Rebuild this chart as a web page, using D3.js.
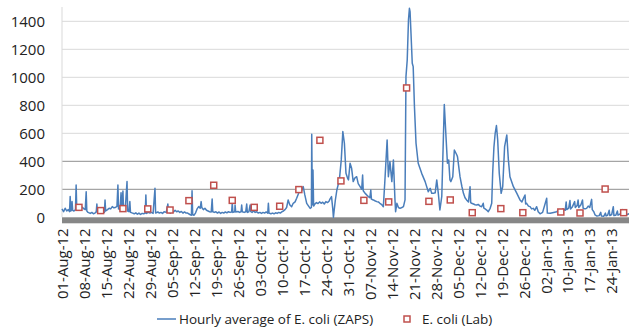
<!DOCTYPE html>
<html><head><meta charset="utf-8">
<script src="https://cdn.jsdelivr.net/npm/d3@7"></script>
<style>body{margin:0;background:#fff}svg{display:block}text{font-family:'Open Sans',sans-serif;fill:#222}</style>
</head><body><svg id="c" width="629" height="329"></svg>
<script>
const tickLabels = ["01-Aug-12","08-Aug-12","15-Aug-12","22-Aug-12","29-Aug-12","05-Sep-12","12-Sep-12","19-Sep-12","26-Sep-12","03-Oct-12","10-Oct-12","17-Oct-12","24-Oct-12","31-Oct-12","07-Nov-12","14-Nov-12","21-Nov-12","28-Nov-12","05-Dec-12","12-Dec-12","19-Dec-12","26-Dec-12","02-Jan-13","10-Jan-13","17-Jan-13","24-Jan-13"];
const yTicks = [0,200,400,600,800,1000,1200,1400];
// [day since 01-Aug-12, E. coli]
const zapsHourly = [[0,60],[0.5,40],[1,65],[1.5,45],[2,55],[2.4,40],[2.6,148],[2.8,45],[3.0,50],[3.2,112],[3.4,50],[3.8,45],[4.3,55],[4.5,231],[4.7,55],[5,60],[5.5,70],[6,62],[6.5,72],[7,60],[7.4,55],[7.7,183],[7.9,45],[8.3,35],[9,28],[9.5,35],[10,25],[10.5,30],[10.9,40],[11.1,95],[11.3,35],[12,40],[12.5,30],[13,38],[13.5,35],[13.7,124],[13.9,45],[14.5,55],[15,65],[15.5,60],[16,76],[16.5,68],[17,70],[17.5,78],[17.8,231],[18,60],[18.5,55],[18.8,176],[19,50],[19.4,188],[19.6,50],[20.1,45],[20.7,255],[20.9,45],[21.3,40],[21.6,112],[21.8,35],[22.5,30],[23,25],[23.5,32],[24,22],[24.5,30],[25,20],[25.5,28],[26,25],[26.5,30],[26.7,160],[26.9,28],[27.5,35],[28,30],[28.5,35],[29,28],[29.6,207],[29.8,30],[30.5,38],[31,30],[31.5,35],[32,28],[32.5,40],[33.2,35],[33.7,95],[33.9,40],[34.5,30],[35,45],[35.5,38],[36,50],[36.5,40],[37,45],[37.5,35],[38,42],[38.5,30],[39,38],[39.5,30],[40,30],[40.7,20],[41.2,15],[41.4,190],[41.6,18],[42,15],[42.5,30],[43,60],[43.5,76],[44.0,65],[44.3,112],[44.5,70],[45,55],[45.5,65],[46,50],[46.5,45],[47,40],[47.5,38],[47.8,130],[48,40],[48.5,35],[49,40],
[49.5,30],[50,38],[50.5,28],[51,35],[51.5,30],[52,38],[52.5,32],[53,40],[53.5,35],[54,38],[54.2,100],[54.4,35],[55,40],[55.1,88],[55.3,38],[56,42],[56.5,35],[57,40],[57.2,88],[57.4,40],[58,35],[58.5,40],[58.8,95],[59,35],[59.5,40],[59.9,88],[60.1,40],[60.5,35],[61,45],[61.5,35],[62,40],[62.5,30],[63,35],[63.5,28],[64,35],[64.5,30],[65,38],[65.5,30],[65.7,100],[65.9,30],[66.5,25],[67,30],[67.5,25],[68,32],[68.5,28],[69,35],[69.5,30],[70,40],[70.5,45],[71,55],[71.5,70],[72,124],[72.5,90],[73.1,75],[73.6,100],[74.2,110],[74.7,136],[75.3,170],[75.8,207],[76.3,190],[76.8,219],[77.3,160],[77.9,100],[78.5,80],[79,64],[79.4,70],[79.5,594],[79.7,90],[79.9,338],[80.1,80],[80.5,95],[81,105],[81.5,98],[82,110],[82.5,100],[83,108],[83.5,95],[84,112],[84.5,105],[85,115],[85.3,130],[85.8,148],[86.2,60],[86.4,0],[86.6,40],[87.0,120],[87.5,195],[88.3,267],[88.9,410],[89.4,612],[89.9,529],[90.4,314],[90.9,280],[91.2,267],[91.7,386],[92.2,350],[92.7,255],[93.2,280],[93.8,290],[94.3,240],[94.9,219],[95.4,200],[95.7,302],[95.9,190],[96.5,171],[97,160],[97.5,148],[98,140],[98.3,195],[98.5,130],[99.1,124],[99.6,118],[100.2,112],[100.7,110],[101.2,100],[101.8,90],[102.3,76],[102.8,267],[103.5,552],[103.9,290],[104.4,398],[105,255],[105.5,410],[106,124],[106.2,40],[106.6,100],[107.1,70],[107.6,64],[108.2,70],[108.7,76],[109.2,124],[109.5,1005],[109.9,1124],[110.3,1410],[110.6,1493],[110.8,1469],[111.1,1314],[111.5,1100],[111.8,1076],[112.2,790],[112.7,529],[113.4,386],[114.5,314],[115.6,255],[116.6,183],[117.2,207],[117.7,171],[118.2,171],[118.8,175],[119.3,267],[119.8,171],[120.3,52],[120.9,150],[121.7,805],[122.3,552],[122.7,386],[123.1,410],[123.5,267],[123.8,255],[124.4,290],[124.9,481],[125.7,445],[125.9,433],[126.7,290],
[127.3,220],[127.8,171],[128.3,140],[128.8,124],[129.4,110],[129.9,219],[130.1,105],[130.4,100],[131.0,95],[131.5,90],[132.0,88],[132.5,92],[133.1,80],[133.6,75],[134.1,100],[134.3,65],[134.7,60],[135.2,52],[135.7,40],[136.3,64],[136.8,100],[137.1,314],[137.5,500],[137.9,600],[138.3,655],[138.7,552],[139.2,314],[139.8,171],[140.3,220],[140.9,505],[141.6,588],[142.1,410],[142.6,290],[143.7,219],[144.8,171],[145.8,124],[146.4,110],[146.9,135],[147.4,159],[147.6,95],[147.9,100],[148.5,80],[149.0,76],[149.5,60],[150.0,64],[150.5,50],[151.1,76],[151.6,40],[152.2,25],[153,35],[154.3,136],[154.5,30],[155.4,29],[156.5,35],[157.5,40],[158.2,52],[158.7,45],[159.5,60],[160.2,50],[160.5,110],[160.7,55],[161.3,65],[161.7,120],[161.9,60],[162.5,76],[163.2,112],[163.4,70],[164.0,85],[164.3,124],[164.5,70],[165.2,90],[165.7,124],[165.9,65],[166.5,60],[167.0,64],[167.5,80],[168.0,70],[168.6,128],[168.8,55],[169.3,40],[169.7,17],[170.3,9],[171,12],[171.5,35],[171.7,10],[172.5,8],[173,30],[173.2,10],[173.7,15],[174.2,50],[174.4,12],[175,20],[175.5,76],[175.7,12],[176.3,15],[176.8,45],[177,15],[178,28],[178.5,55],[178.7,20],[179.3,40],[179.6,15],[180.3,25],[180.5,20]];
const labDays = [5.4,12.3,19.4,27.3,34.4,40.4,48.3,54.2,61.2,69.3,75.4,82.1,88.8,96.1,104.0,109.7,116.8,123.6,130.6,139.7,146.7,158.8,164.9,172.9,178.8];
const labValues = [71,48,62,60,52,119,229,121,71,79,198,550,260,121,110,924,114,124,33,62,33,38,31,202,33];

const svg = d3.select("#c");
const x = d3.scaleLinear().domain([0,180.5]).range([62,629]);
const y = d3.scaleLinear().domain([0,1400]).range([217.3,21.3]);

// gridlines
svg.append("g").selectAll("line").data(yTicks.filter(d=>d>0)).join("line")
  .attr("x1",x(0)).attr("x2",x(180.5)).attr("y1",d=>y(d)).attr("y2",d=>y(d))
  .attr("stroke",d=>d<=400?"#8f8f8f":"#d9d9d9").attr("stroke-width",1);
// y axis line
svg.append("line").attr("x1",x(0)).attr("x2",x(0)).attr("y1",7).attr("y2",y(0)).attr("stroke","#d9d9d9");

// y labels
const ya = svg.append("g").attr("transform",`translate(${x(0)},0)`)
  .call(d3.axisLeft(y).tickValues(yTicks).tickFormat(d3.format("d")).tickSize(0).tickPadding(17));
ya.select(".domain").remove();
ya.selectAll("text").style("font-size","15px").style("font-family","'Open Sans',sans-serif").attr("fill","#222");

// x axis band
svg.append("rect").attr("x",x(0)).attr("y",y(0)).attr("width",x(180.5)-x(0)).attr("height",6).attr("fill","#878787");

// x labels
const xa = svg.append("g").attr("transform",`translate(0,${y(0)})`)
  .call(d3.axisBottom(x).tickValues(tickLabels.map((d,i)=>i*7)).tickFormat((d,i)=>tickLabels[i]).tickSize(0));
xa.select(".domain").remove();
xa.selectAll("text").attr("transform","rotate(-90)").attr("x",-11).attr("y",0).attr("dy","0.35em")
  .attr("text-anchor","end").style("font-size","15px").style("font-family","'Open Sans',sans-serif").attr("fill","#222");

// ZAPS line
svg.append("path").datum(zapsHourly)
  .attr("d",d3.line().x(d=>x(d[0])).y(d=>y(d[1])))
  .attr("fill","none").attr("stroke","#4a7ebb").attr("stroke-width",1.5).attr("stroke-linejoin","round");

// lab squares
svg.append("g").selectAll("rect").data(labDays.map((d,i)=>[d,labValues[i]])).join("rect")
  .attr("x",d=>x(d[0])-3).attr("y",d=>y(d[1])-3).attr("width",6).attr("height",6)
  .attr("fill","#fff").attr("stroke","#c0504d").attr("stroke-width",1.5);

// legend
const lg = svg.append("g");
const ly = 319;
lg.append("line").attr("x1",157).attr("x2",176).attr("y1",ly).attr("y2",ly).attr("stroke","#4a7ebb").attr("stroke-width",1.5);
lg.append("text").attr("x",179).attr("y",ly).attr("dy","0.35em").style("font-size","13.5px").text("Hourly average of E. coli (ZAPS)");
lg.append("rect").attr("x",404).attr("y",ly-3).attr("width",6).attr("height",6).attr("fill","#fff").attr("stroke","#c0504d").attr("stroke-width",1.5);
lg.append("text").attr("x",422).attr("y",ly).attr("dy","0.35em").style("font-size","13.5px").text("E. coli (Lab)");
</script></body></html>
